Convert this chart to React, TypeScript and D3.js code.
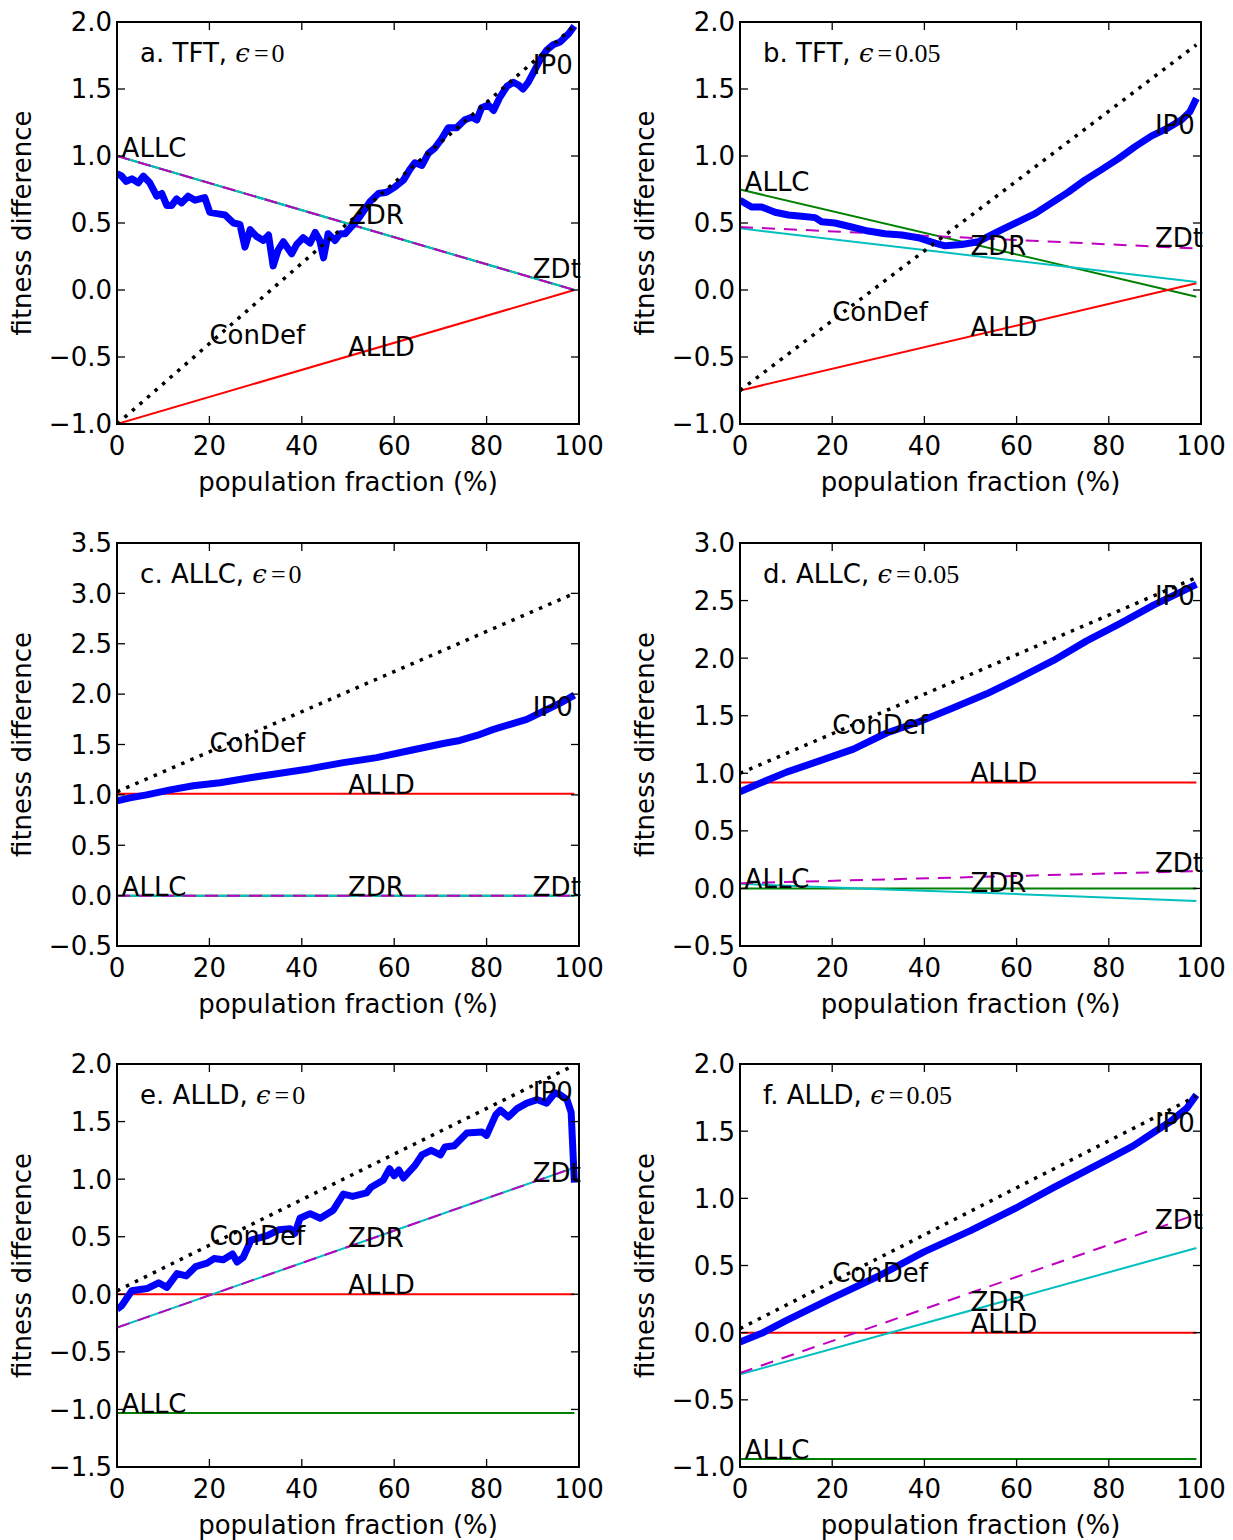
import React from 'react';
import * as d3 from 'd3';

type Pt = [number, number];

// ---------- shared ----------
const xTicks = [0, 20, 40, 60, 80, 100];
const labelXs: Record<string, number> = { ALLC: 1, ConDef: 20, ZDR: 50, ALLD: 50, ZDt: 90, IP0: 90 };

// ---------- panel a: TFT, eps=0 ----------
const aYTicks = [-1.0, -0.5, 0.0, 0.5, 1.0, 1.5, 2.0];
const aALLC: Pt[] = [[0, 1.0], [99, 0.0]];
const aALLD: Pt[] = [[0, -1.0], [99, 0.0]];
const aZDR: Pt[] = [[0, 1.0], [99, 0.0]];
const aZDt: Pt[] = [[0, 1.0], [99, 0.0]];
const aConDef: Pt[] = [[0, -1.0], [99, 1.97]];
const aIP0: Pt[] = [[0, 0.87], [1, 0.85], [2, 0.81], [3.2, 0.83], [4.6, 0.8], [5.7, 0.85], [7.1, 0.8], [8.6, 0.7], [9.7, 0.72], [10.8, 0.63], [11.8, 0.63], [12.9, 0.68], [14, 0.65], [15.4, 0.7], [16.9, 0.67], [19, 0.69], [20.1, 0.58], [21.6, 0.57], [23.4, 0.56], [25.2, 0.5], [26.6, 0.49], [27.7, 0.32], [28.8, 0.45], [30.2, 0.4], [31.7, 0.37], [32.8, 0.41], [33.8, 0.18], [34.9, 0.3], [36, 0.36], [37.8, 0.27], [38.9, 0.34], [40.3, 0.39], [41.8, 0.35], [42.9, 0.43], [43.9, 0.37], [44.7, 0.24], [45.7, 0.42], [47.2, 0.37], [48.3, 0.42], [49.4, 0.42], [50.4, 0.46], [51.5, 0.5], [52.6, 0.55], [54.8, 0.66], [56.6, 0.72], [58.4, 0.73], [60.2, 0.77], [62, 0.82], [63.4, 0.9], [64.5, 0.95], [66, 0.93], [67.4, 1.02], [68.8, 1.06], [70.3, 1.13], [71.7, 1.21], [73.5, 1.21], [75.3, 1.27], [76.8, 1.29], [77.9, 1.27], [78.9, 1.36], [80.4, 1.38], [81.5, 1.34], [82.9, 1.44], [84.4, 1.52], [85.8, 1.55], [86.9, 1.53], [87.9, 1.5], [89, 1.55], [90.1, 1.62], [91.6, 1.72], [93, 1.79], [94.4, 1.83], [95.9, 1.85], [97.7, 1.91], [99, 1.97]];

// ---------- panel b: TFT, eps=0.05 ----------
const bYTicks = [-1.0, -0.5, 0.0, 0.5, 1.0, 1.5, 2.0];
const bALLC: Pt[] = [[0, 0.75], [99, -0.05]];
const bALLD: Pt[] = [[0, -0.75], [99, 0.05]];
const bZDR: Pt[] = [[0, 0.46], [99, 0.06]];
const bZDt: Pt[] = [[0, 0.47], [99, 0.31]];
const bConDef: Pt[] = [[0, -0.75], [99, 1.83]];
const bIP0: Pt[] = [[0, 0.67], [2.5, 0.62], [4.7, 0.62], [7.6, 0.58], [10.5, 0.56], [13.4, 0.55], [16.3, 0.54], [17.7, 0.51], [20.6, 0.5], [24.2, 0.47], [27.8, 0.44], [31.5, 0.42], [35.1, 0.41], [38.7, 0.39], [42.3, 0.35], [44.5, 0.33], [48.1, 0.34], [51.7, 0.36], [53.9, 0.4], [56.8, 0.45], [60.4, 0.51], [64, 0.57], [67.6, 0.65], [71.2, 0.73], [74.8, 0.82], [78.5, 0.9], [82.1, 0.98], [85.7, 1.07], [89.3, 1.15], [92.9, 1.21], [95.8, 1.27], [97.6, 1.33], [99, 1.43]];

// ---------- panel c: ALLC, eps=0 ----------
const cYTicks = [-0.5, 0.0, 0.5, 1.0, 1.5, 2.0, 2.5, 3.0, 3.5];
const cALLC: Pt[] = [[0, 0.0], [99, 0.0]];
const cALLD: Pt[] = [[0, 1.01], [99, 1.01]];
const cZDR: Pt[] = [[0, 0.0], [99, 0.0]];
const cZDt: Pt[] = [[0, 0.0], [99, 0.0]];
const cConDef: Pt[] = [[0, 1.03], [99, 3.0]];
const cIP0: Pt[] = [[0, 0.94], [2.8, 0.97], [6.4, 1.0], [11.5, 1.05], [16.5, 1.09], [22.3, 1.12], [28.8, 1.17], [34.6, 1.21], [41.8, 1.26], [49, 1.32], [56.2, 1.37], [63.4, 1.44], [70.6, 1.51], [74.2, 1.54], [77.9, 1.59], [81.5, 1.65], [85.1, 1.7], [88.7, 1.75], [92.3, 1.83], [95.9, 1.91], [99, 1.99]];

// ---------- panel d: ALLC, eps=0.05 ----------
const dYTicks = [-0.5, 0.0, 0.5, 1.0, 1.5, 2.0, 2.5, 3.0];
const dALLC: Pt[] = [[0, 0.0], [99, 0.0]];
const dALLD: Pt[] = [[0, 0.92], [99, 0.92]];
const dZDR: Pt[] = [[0, 0.04], [31.8, -0.01], [60.7, -0.05], [99, -0.11]];
const dZDt: Pt[] = [[0, 0.045], [99, 0.15]];
const dConDef: Pt[] = [[0, 1.0], [99, 2.7]];
const dIP0: Pt[] = [[0, 0.84], [2.9, 0.89], [10.1, 1.01], [17.4, 1.11], [24.6, 1.21], [31.8, 1.35], [39, 1.45], [46.3, 1.57], [53.5, 1.69], [60.7, 1.83], [68, 1.98], [75.2, 2.15], [82.4, 2.3], [89.7, 2.46], [96.9, 2.6], [99, 2.64]];

// ---------- panel e: ALLD, eps=0 ----------
const eYTicks = [-1.5, -1.0, -0.5, 0.0, 0.5, 1.0, 1.5, 2.0];
const eALLC: Pt[] = [[0, -1.03], [99, -1.03]];
const eALLD: Pt[] = [[0, 0.0], [99, 0.0]];
const eZDR: Pt[] = [[0, -0.29], [99, 1.1]];
const eZDt: Pt[] = [[0, -0.29], [99, 1.1]];
const eConDef: Pt[] = [[0, 0.03], [99, 1.99]];
const eIP0: Pt[] = [[0, -0.13], [1, -0.1], [3.2, 0.03], [6.5, 0.05], [9, 0.1], [10.8, 0.06], [13, 0.18], [15, 0.16], [17, 0.24], [19.5, 0.27], [21, 0.31], [23, 0.3], [25, 0.35], [26, 0.28], [27.3, 0.32], [29, 0.47], [32.5, 0.51], [35, 0.56], [37.5, 0.57], [38.5, 0.53], [39.6, 0.66], [41.8, 0.7], [44, 0.66], [46.8, 0.73], [49, 0.87], [51, 0.85], [54, 0.88], [55, 0.93], [57.6, 0.99], [59, 1.09], [60, 1.03], [61, 1.08], [62, 1.01], [64.5, 1.12], [66, 1.21], [68, 1.25], [70, 1.21], [71, 1.28], [73, 1.29], [75.7, 1.4], [79, 1.41], [80, 1.38], [82, 1.56], [83, 1.6], [84.7, 1.54], [86.5, 1.61], [88.7, 1.66], [91, 1.69], [93, 1.66], [94.8, 1.75], [96, 1.73], [97.4, 1.69], [98.3, 1.58], [99, 0.97]];

// ---------- panel f: ALLD, eps=0.05 ----------
const fYTicks = [-1.0, -0.5, 0.0, 0.5, 1.0, 1.5, 2.0];
const fALLC: Pt[] = [[0, -0.94], [99, -0.94]];
const fALLD: Pt[] = [[0, 0.0], [99, 0.0]];
const fZDR: Pt[] = [[0, -0.31], [99, 0.63]];
const fZDt: Pt[] = [[0, -0.3], [99, 0.88]];
const fConDef: Pt[] = [[0, 0.03], [99, 1.76]];
const fIP0: Pt[] = [[0, -0.07], [5, 0.0], [10, 0.09], [19.5, 0.25], [30, 0.42], [39.8, 0.6], [50, 0.76], [60, 0.93], [68, 1.08], [80.3, 1.3], [85.3, 1.39], [89.7, 1.49], [93.3, 1.57], [96.9, 1.67], [99, 1.77]];

// ---------- layout ----------
const colX = [[117, 579], [740, 1201]];
const rowY = [[22, 424], [543, 946], [1064, 1467]];

const SANS = 'DejaVu Sans';
const FS = 26;

interface PanelDef {
  title: string;
  eps: string;
  row: number;
  col: number;
  yTicks: number[];
  series: Record<string, Pt[]>;
}

const panels: PanelDef[] = [
  { title: 'a. TFT, ', eps: '0', row: 0, col: 0, yTicks: aYTicks, series: { ALLC: aALLC, ALLD: aALLD, ZDR: aZDR, ZDt: aZDt, IP0: aIP0, ConDef: aConDef } },
  { title: 'b. TFT, ', eps: '0.05', row: 0, col: 1, yTicks: bYTicks, series: { ALLC: bALLC, ALLD: bALLD, ZDR: bZDR, ZDt: bZDt, IP0: bIP0, ConDef: bConDef } },
  { title: 'c. ALLC, ', eps: '0', row: 1, col: 0, yTicks: cYTicks, series: { ALLC: cALLC, ALLD: cALLD, ZDR: cZDR, ZDt: cZDt, IP0: cIP0, ConDef: cConDef } },
  { title: 'd. ALLC, ', eps: '0.05', row: 1, col: 1, yTicks: dYTicks, series: { ALLC: dALLC, ALLD: dALLD, ZDR: dZDR, ZDt: dZDt, IP0: dIP0, ConDef: dConDef } },
  { title: 'e. ALLD, ', eps: '0', row: 2, col: 0, yTicks: eYTicks, series: { ALLC: eALLC, ALLD: eALLD, ZDR: eZDR, ZDt: eZDt, IP0: eIP0, ConDef: eConDef } },
  { title: 'f. ALLD, ', eps: '0.05', row: 2, col: 1, yTicks: fYTicks, series: { ALLC: fALLC, ALLD: fALLD, ZDR: fZDR, ZDt: fZDt, IP0: fIP0, ConDef: fConDef } },
];

const styles: Record<string, { stroke: string; width: number; dash?: string }> = {
  ALLC: { stroke: '#008000', width: 2 },
  ALLD: { stroke: '#ff0000', width: 2 },
  ZDR: { stroke: '#00bfbf', width: 2 },
  ZDt: { stroke: '#bf00bf', width: 2, dash: '13 9' },
  IP0: { stroke: '#0000ff', width: 7 },
  ConDef: { stroke: '#000000', width: 3.5, dash: '3.5 6.5' },
};
const drawOrder = ['ALLC', 'ALLD', 'ZDR', 'ZDt', 'IP0', 'ConDef'];
const labelOrder = ['ALLC', 'ConDef', 'ZDR', 'ALLD', 'ZDt', 'IP0'];

function valueAt(pts: Pt[], x: number): number {
  const i = d3.bisector((p: Pt) => p[0]).left(pts, x);
  if (i <= 0) return pts[0][1];
  if (i >= pts.length) return pts[pts.length - 1][1];
  const [x0, y0] = pts[i - 1];
  const [x1, y1] = pts[i];
  return y0 + ((y1 - y0) * (x - x0)) / (x1 - x0);
}

const fmt = d3.format('.1f');

function Panel({ p, idx }: { p: PanelDef; idx: number }) {
  const [x0, x1] = colX[p.col];
  const [y0, y1] = rowY[p.row];
  const yMin = d3.min(p.yTicks) as number;
  const yMax = d3.max(p.yTicks) as number;
  const x = d3.scaleLinear().domain([0, 100]).range([x0, x1]);
  const y = d3.scaleLinear().domain([yMin, yMax]).range([y1, y0]);
  const line = d3.line<Pt>().x((d) => x(d[0])).y((d) => y(d[1]));
  const clipId = `clip${idx}`;
  const tl = 8;
  const cx = (x0 + x1) / 2;
  const cy = (y0 + y1) / 2;
  return (
    <g>
      <defs>
        <clipPath id={clipId}>
          <rect x={x0} y={y0} width={x1 - x0} height={y1 - y0} />
        </clipPath>
      </defs>
      <g clipPath={`url(#${clipId})`}>
        {drawOrder.map((k) => (
          <path
            key={k}
            d={line(p.series[k]) || ''}
            fill="none"
            stroke={styles[k].stroke}
            strokeWidth={styles[k].width}
            strokeDasharray={styles[k].dash}
            strokeLinejoin="round"
            strokeLinecap="butt"
          />
        ))}
      </g>
      {xTicks.map((t) => (
        <g key={'xt' + t}>
          <line x1={x(t)} x2={x(t)} y1={y1} y2={y1 - tl} stroke="#000" strokeWidth={1.3} />
          <line x1={x(t)} x2={x(t)} y1={y0} y2={y0 + tl} stroke="#000" strokeWidth={1.3} />
          <text x={x(t)} y={y1 + 31} textAnchor="middle" fontFamily={SANS} fontSize={FS} fill="#000">
            {t}
          </text>
        </g>
      ))}
      {p.yTicks.map((t) => (
        <g key={'yt' + t}>
          <line x1={x0} x2={x0 + tl} y1={y(t)} y2={y(t)} stroke="#000" strokeWidth={1.3} />
          <line x1={x1} x2={x1 - tl} y1={y(t)} y2={y(t)} stroke="#000" strokeWidth={1.3} />
          <text x={x0 - 5} y={y(t)} dy="0.36em" textAnchor="end" fontFamily={SANS} fontSize={FS} fill="#000">
            {fmt(t)}
          </text>
        </g>
      ))}
      <rect x={x0} y={y0} width={x1 - x0} height={y1 - y0} fill="none" stroke="#000" strokeWidth={2} />
      {labelOrder.map((k) => {
        const lx = labelXs[k];
        return (
          <text key={'lb' + k} x={x(lx)} y={y(valueAt(p.series[k], lx))} fontFamily={SANS} fontSize={FS} fill="#000">
            {k}
          </text>
        );
      })}
      <text x={x(5)} y={y0 + 0.1 * (y1 - y0)} fontFamily={SANS} fontSize={FS} fill="#000">
        {p.title}
        <tspan fontFamily="DejaVu Serif" fontStyle="italic">ϵ</tspan>
        <tspan fontFamily="Liberation Serif" dx={4}>=</tspan>
        <tspan fontFamily="Liberation Serif" dx={3}>{p.eps}</tspan>
      </text>
      <text x={cx} y={y1 + 67} textAnchor="middle" fontFamily={SANS} fontSize={FS} fill="#000">
        population fraction (%)
      </text>
      <text transform={`translate(${x0 - 86},${cy}) rotate(-90)`} textAnchor="middle" fontFamily={SANS} fontSize={FS} fill="#000">
        fitness difference
      </text>
    </g>
  );
}

export default function App() {
  return (
    <svg
      width={1233}
      height={1540}
      viewBox="0 0 1233 1540"
      style={{ position: 'absolute', left: 0, top: 0, background: '#fff' }}
    >
      <rect x={0} y={0} width={1233} height={1540} fill="#fff" />
      {panels.map((p, i) => (
        <Panel key={i} p={p} idx={i} />
      ))}
    </svg>
  );
}
